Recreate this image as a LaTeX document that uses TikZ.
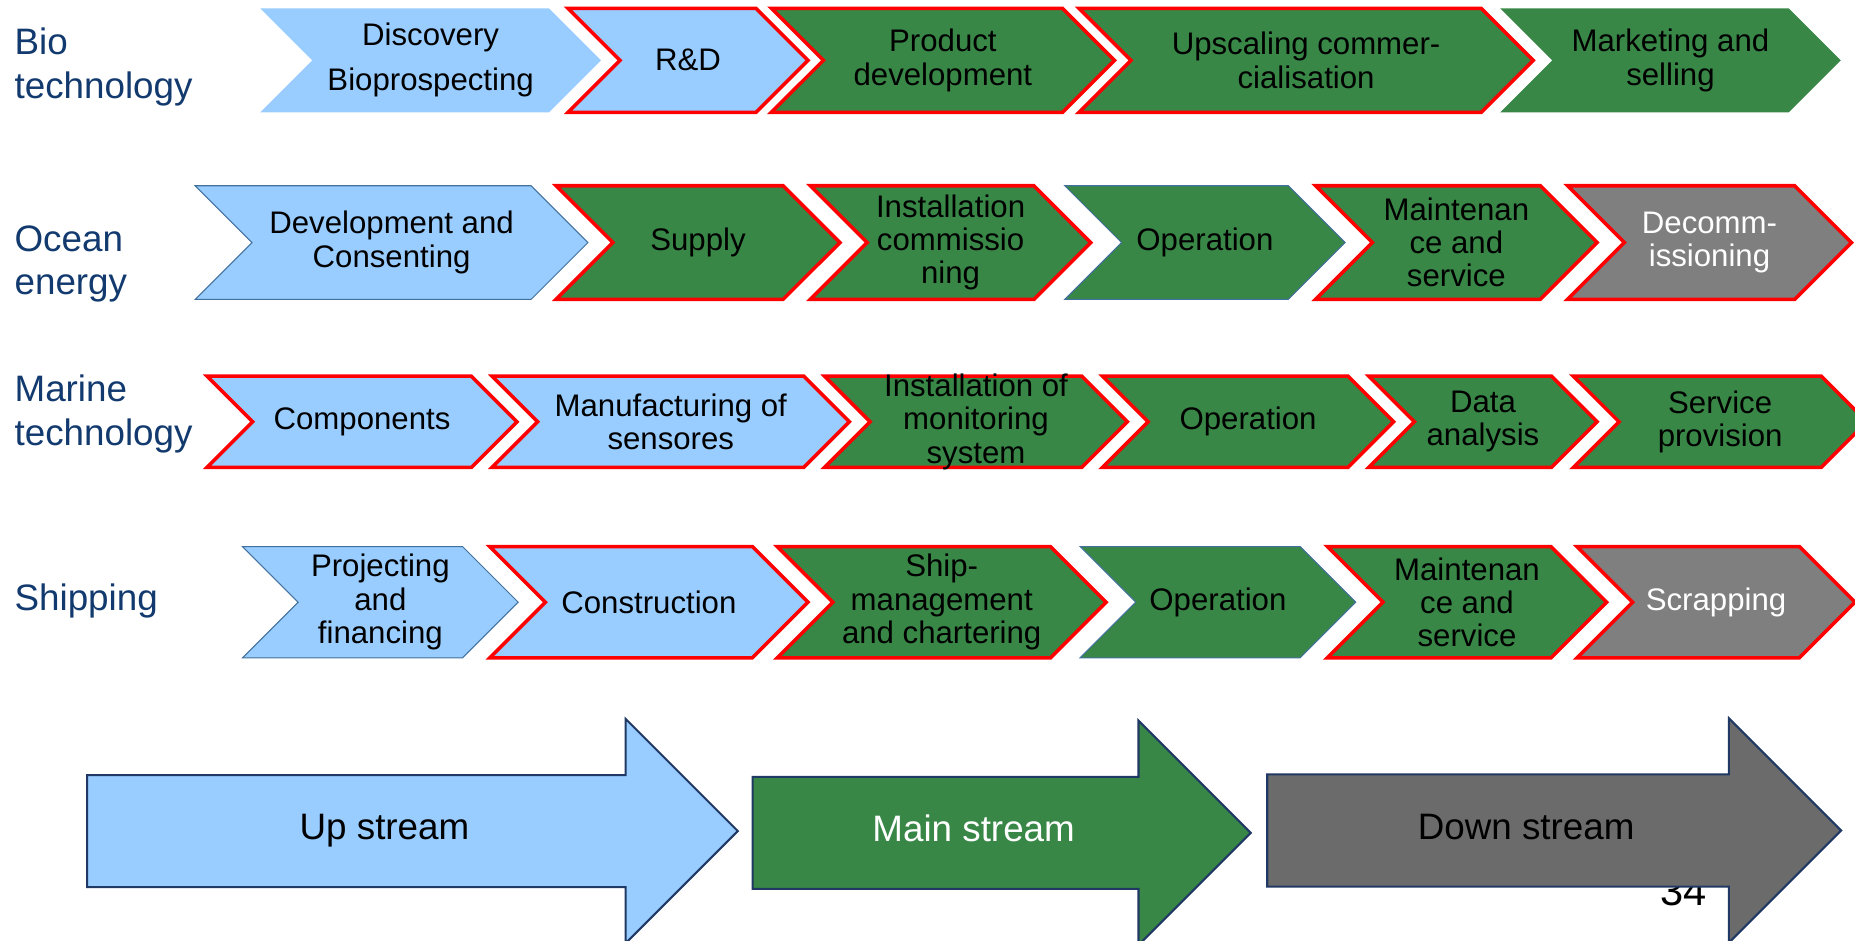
\documentclass[tikz,border=0pt]{standalone}
\usepackage{fontspec}
\setmainfont{Liberation Sans}
\usepackage{tikz}
\usetikzlibrary{shapes.symbols, shapes.arrows}

\definecolor{paleblue}{RGB}{153,204,255}
\definecolor{leafgreen}{RGB}{56,135,70}
\definecolor{ashgrey}{RGB}{127,127,127}
\definecolor{slategrey}{RGB}{107,107,107}
\definecolor{rimblue}{RGB}{65,113,156}
\definecolor{navy}{RGB}{31,56,100}
\definecolor{sectorblue}{RGB}{18,58,110}

\tikzstyle{stage}     = [signal, signal to=east, signal from=west, signal pointer angle=90, inner sep=0pt, align=center, font=\fontsize{15}{16}\selectfont]
\tikzstyle{upstage}   = [stage, fill=paleblue, text=black]
\tikzstyle{mainstage} = [stage, fill=leafgreen, text=black]
\tikzstyle{endstage}  = [stage, fill=ashgrey, text=white]
\tikzstyle{keyrim}    = [draw=red, line width=1.7pt]
\tikzstyle{thinrim}   = [draw=rimblue, line width=0.5pt]
\tikzstyle{sector}    = [anchor=west, align=left, inner sep=0pt, text=sectorblue, font=\fontsize{17.7}{21}\selectfont]
\tikzstyle{stream}    = [single arrow, single arrow head extend=0.95cm, minimum width=3.76cm, text height=0.45cm, text depth=0.15cm, inner ysep=0.63cm, draw=navy, line width=1pt, font=\fontsize{17.7}{21}\selectfont]

\begin{document}
\begin{tikzpicture}
      \useasboundingbox (0,0) rectangle (31.36,-15.9);

      % Bio technology
      \node (bio)  [sector] at (0.24,-1.13) {Bio\\technology};
      \node (bio1) [upstage, minimum width=5.76cm, minimum height=1.76cm] at (7.28,-1.02) {Discovery\\[0.2cm]Bioprospecting};
      \node (bio2) [upstage, keyrim, minimum width=4.06cm, minimum height=1.76cm] at (11.63,-1.02) {R\&D};
      \node (bio3) [mainstage, keyrim, minimum width=5.80cm, minimum height=1.76cm] at (15.94,-1.02) {Product\\development};
      \node (bio4) [mainstage, keyrim, minimum width=7.68cm, minimum height=1.76cm] at (22.08,-1.02) {Upscaling commer-\\cialisation};
      \node (bio5) [mainstage, minimum width=5.76cm, minimum height=1.76cm] at (28.24,-1.02) {Marketing and\\selling};

      % Ocean energy
      \node (ocean)  [sector] at (0.24,-4.46) {Ocean\\energy};
      \node (ocean1) [upstage, thinrim, minimum width=6.64cm, minimum height=1.92cm] at (6.62,-4.10) {Development and\\Consenting};
      \node (ocean2) [mainstage, keyrim, minimum width=4.80cm, minimum height=1.92cm] at (11.80,-4.10) {Supply};
      \node (ocean3) [mainstage, keyrim, minimum width=4.74cm, minimum height=1.92cm] at (16.07,-4.10) {Installation\\commissio\\ning};
      \node (ocean4) [mainstage, thinrim, minimum width=4.74cm, minimum height=1.92cm] at (20.37,-4.10) {Operation};
      \node (ocean5) [mainstage, keyrim, minimum width=4.76cm, minimum height=1.92cm] at (24.62,-4.10) {Maintenan\\ce and\\service};
      \node (ocean6) [endstage, keyrim, minimum width=4.80cm, minimum height=1.92cm] at (28.90,-4.10) {Decomm-\\issioning};

      % Marine technology
      \node (marine)  [sector] at (0.24,-7.00) {Marine\\technology};
      \node (marine1) [upstage, keyrim, minimum width=5.24cm, minimum height=1.54cm] at (6.12,-7.13) {Components};
      \node (marine2) [upstage, keyrim, minimum width=6.04cm, minimum height=1.54cm] at (11.34,-7.13) {Manufacturing of\\sensores};
      \node (marine3) [mainstage, keyrim, minimum width=5.12cm, minimum height=1.54cm,
                       label={[align=center, font=\fontsize{15}{16}\selectfont]center:Installation of\\monitoring\\system}] at (16.50,-7.13) {};
      \node (marine4) [mainstage, keyrim, minimum width=4.92cm, minimum height=1.54cm] at (21.10,-7.13) {Operation};
      \node (marine5) [mainstage, keyrim, minimum width=3.86cm, minimum height=1.54cm] at (25.07,-7.13) {Data\\analysis};
      \node (marine6) [mainstage, keyrim, minimum width=4.96cm, minimum height=1.54cm] at (29.08,-7.13) {Service\\provision};

      % Shipping
      \node (ship)  [sector] at (0.24,-10.16) {Shipping};
      \node (ship1) [upstage, thinrim, minimum width=4.66cm, minimum height=1.88cm] at (6.43,-10.18) {Projecting\\and\\financing};
      \node (ship2) [upstage, keyrim, minimum width=5.38cm, minimum height=1.88cm] at (10.97,-10.18) {Construction};
      \node (ship3) [mainstage, keyrim, minimum width=5.56cm, minimum height=1.88cm] at (15.92,-10.18) {Ship-\\management\\and chartering};
      \node (ship4) [mainstage, thinrim, minimum width=4.66cm, minimum height=1.88cm] at (20.59,-10.18) {Operation};
      \node (ship5) [mainstage, keyrim, minimum width=4.72cm, minimum height=1.88cm] at (24.80,-10.18) {Maintenan\\ce and\\service};
      \node (ship6) [endstage, keyrim, minimum width=4.70cm, minimum height=1.88cm] at (29.01,-10.18) {Scrapping};

      % streams
      \node (page) [font=\fontsize{20}{24}\selectfont] at (28.46,-15.06) {34};
      \node (up)   [stream, fill=paleblue, minimum height=11cm] at (6.50,-14.05) {Up stream};
      \node (main) [stream, fill=leafgreen, text=white, minimum height=8.42cm] at (16.46,-14.08) {Main stream};
      \node (down) [stream, fill=slategrey, minimum height=9.70cm] at (25.80,-14.04) {Down stream};
\end{tikzpicture}
\end{document}
